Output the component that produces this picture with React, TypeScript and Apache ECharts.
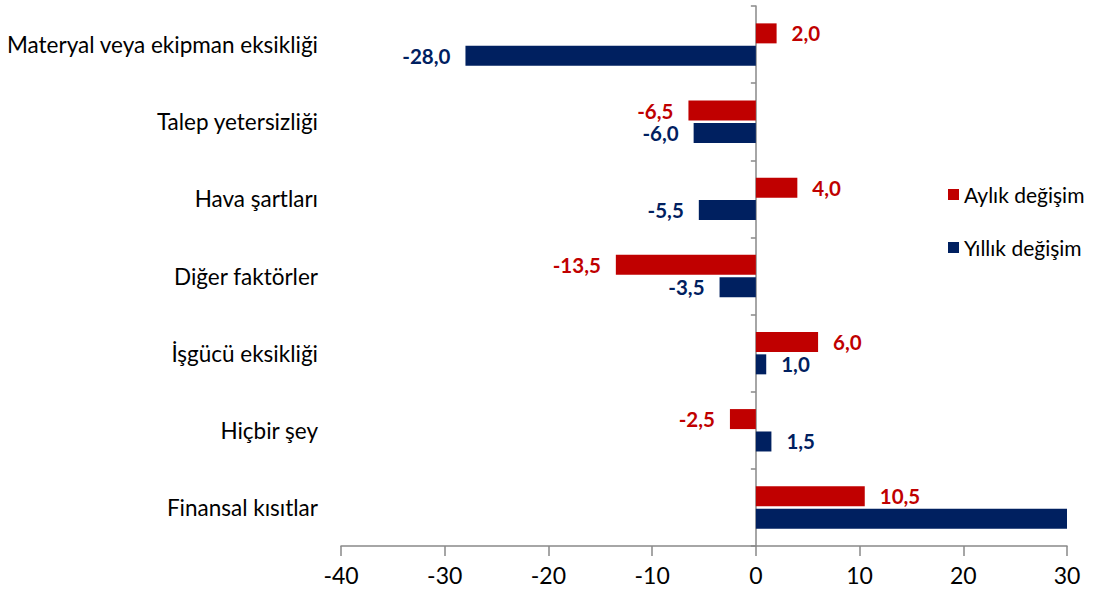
import React, { useEffect, useRef } from "react";
import * as echarts from "echarts";

const categories = [
  "Materyal veya ekipman eksikliği",
  "Talep yetersizliği",
  "Hava şartları",
  "Diğer faktörler",
  "İşgücü eksikliği",
  "Hiçbir şey",
  "Finansal kısıtlar",
];
const seriesNames = ["Aylık değişim", "Yıllık değişim"];
const monthly = [2.0, -6.5, 4.0, -13.5, 6.0, -2.5, 10.5];
const yearly = [-28.0, -6.0, -5.5, -3.5, 1.0, 1.5, 35.0];
const hiddenLabels = [false, false, false, false, false, false, true];
const xTicks = { min: -40, max: 30, interval: 10 };

const FONT = "Lato, 'Open Sans', sans-serif";
const RED = "#C00000";
const NAVY = "#002060";

function buildData(values: number[], color: string, hidden: boolean[]) {
  return values.map((v, i) => ({
    value: v,
    label: {
      show: !hidden[i],
      position: v < 0 ? "left" : "right",
      distance: 15,
      color,
      fontWeight: "bold",
      fontSize: 20.5,
      lineHeight: 17,
      fontFamily: FONT,
      formatter: (p: any) => p.value.toFixed(1).replace(".", ","),
    },
  }));
}

export default function App() {
  const ref = useRef<HTMLDivElement>(null);
  useEffect(() => {
    const chart = echarts.init(ref.current!, null, { renderer: "svg" });
    chart.setOption({
      animation: false,
      textStyle: { fontFamily: FONT },
      legend: {
        orient: "vertical",
        left: 943,
        top: 179,
        itemGap: 32,
        itemWidth: 11,
        itemHeight: 11,
        icon: "rect",
        textStyle: { fontSize: 21, color: "#000", fontFamily: FONT },
        data: seriesNames,
      },
      grid: { left: 341, right: 30, top: 6, bottom: 50, containLabel: false },
      xAxis: {
        type: "value",
        min: xTicks.min,
        max: xTicks.max,
        interval: xTicks.interval,
        splitLine: { show: false },
        axisLine: { show: true, lineStyle: { color: "#898989", width: 1.5 } },
        axisTick: { show: true, length: 10, lineStyle: { color: "#898989", width: 1.5 } },
        axisLabel: { fontSize: 23, color: "#000", margin: 17, fontFamily: FONT },
      },
      yAxis: {
        type: "category",
        data: categories,
        inverse: true,
        axisLine: { onZero: true, lineStyle: { color: "#898989", width: 1.5 } },
        axisTick: { show: true, length: 5, lineStyle: { color: "#898989", width: 1.5 } },
        axisLabel: {
          fontSize: 22.5,
          color: "#000",
          fontFamily: FONT,
          margin: 23,
        },
        position: "left",
      },
      series: [
        {
          name: seriesNames[0],
          type: "bar",
          data: buildData(monthly, RED, [false, false, false, false, false, false, false]),
          itemStyle: { color: RED },
          barWidth: 20,
          barGap: "12%",
          clip: true,
        },
        {
          name: seriesNames[1],
          type: "bar",
          data: buildData(yearly, NAVY, hiddenLabels),
          itemStyle: { color: NAVY },
          barWidth: 20,
          barGap: "12%",
          clip: true,
        },
      ],
    });
    return () => chart.dispose();
  }, []);
  return (
    <div
      ref={ref}
      style={{ position: "absolute", left: 0, top: 0, width: 1097, height: 596 }}
    />
  );
}
